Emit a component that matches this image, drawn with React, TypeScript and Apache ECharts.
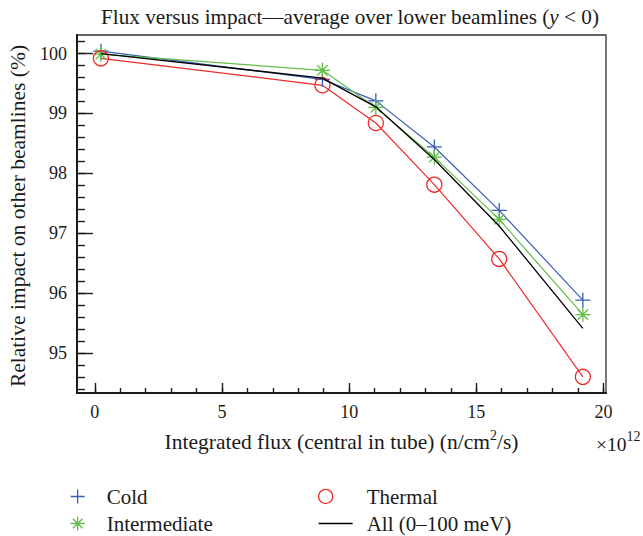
import React, { useEffect, useRef } from "react";
import * as echarts from "echarts";

// ---- data ----
const fluxX = [0.24, 8.95, 11.05, 13.35, 15.9, 19.19];
const coldValues = [100.04, 99.57, 99.21, 98.44, 97.38, 95.88];
const intermediateValues = [99.99, 99.72, 99.1, 98.27, 97.23, 95.64];
const thermalValues = [99.92, 99.47, 98.84, 97.81, 96.57, 94.6];
const allValues = [100.0, 99.59, 99.11, 98.23, 97.12, 95.41];
const seriesNames = ["Cold", "Intermediate", "Thermal", "All (0–100 meV)"];

const X_RANGE = [-0.7, 20.1];
const Y_RANGE = [94.33, 100.31];
const X_MAJOR = { min: 0, max: 20, interval: 5 };
const X_MINOR = { min: 0, max: 20, interval: 1 };
const Y_MAJOR = { min: 95, max: 100, interval: 1 };
const Y_MINOR = { min: 94.4, max: 100.2, interval: 0.2 };

const TITLE = "Flux versus impact—average over lower beamlines ({i|y} < 0)";
const X_NAME = "Integrated flux (central in tube) (n/cm{sup|2}/s)";
const Y_NAME = "Relative impact on other beamlines (%)";

// ---- style ----
const FONT = "Liberation Serif";
const INK = "#1a1a1a";
const BLUE = "#3a5bb8";
const GREEN = "#62be48";
const RED = "#ee2b2b";
const BLACK = "#000000";
const CLEAR = "rgba(0,0,0,0)";

const PLUS = "path://M7,0 L7,14 M0,7 L14,7";
const ASTERISK = "path://M7,0 L7,14 M0,7 L14,7 M2.2,2.2 L11.8,11.8 M11.8,2.2 L2.2,11.8";

const P = { left: 77, top: 35, width: 529, height: 358 };
const px = (v: number) => P.left + ((v - X_RANGE[0]) / (X_RANGE[1] - X_RANGE[0])) * P.width;
const py = (v: number) => P.top + ((Y_RANGE[1] - v) / (Y_RANGE[1] - Y_RANGE[0])) * P.height;

function buildOption(): any {
  const pairs = (ys: number[]) => fluxX.map((x, i) => [x, ys[i]]);
  const hidden = (gridIndex: number) => ({ type: "value", gridIndex, show: false });
  const tickStyle = { color: INK, width: 1.4 };
  const labelStyle = { fontFamily: FONT, fontSize: 18, color: INK };

  const markerSeries = (name: string, ys: number[], color: string, symbol: string, size: number) => ({
    type: "line",
    name,
    xAxisIndex: 0,
    yAxisIndex: 0,
    data: pairs(ys),
    symbol,
    symbolSize: size,
    showSymbol: true,
    itemStyle: { color: CLEAR, borderColor: color, borderWidth: 1.3 },
    lineStyle: { color, width: 1.2 },
    emphasis: { disabled: true },
    z: 3,
  });

  const legendItem = (left: number, top: number, itemWidth: number, textPad: number, item: any) => ({
    orient: "horizontal",
    left,
    top,
    padding: 0,
    itemWidth,
    itemHeight: 14,
    selectedMode: false,
    textStyle: { fontFamily: FONT, fontSize: 21, lineHeight: 20, color: INK, padding: [0, 0, 0, textPad] },
    data: [item],
  });

  return {
    animation: false,
    backgroundColor: "#ffffff",
    grid: [
      { left: P.left, top: P.top, width: P.width, height: P.height, show: true, borderColor: "#333", borderWidth: 1.3, backgroundColor: "transparent" },
      { left: px(X_MAJOR.min), width: px(X_MAJOR.max) - px(X_MAJOR.min), top: P.top, height: P.height },
      { left: P.left, width: P.width, top: py(Y_MAJOR.max), height: py(Y_MAJOR.min) - py(Y_MAJOR.max) },
      { left: P.left, width: P.width, top: py(Y_MINOR.max), height: py(Y_MINOR.min) - py(Y_MINOR.max) },
    ],
    xAxis: [
      {
        type: "value", gridIndex: 0, min: X_RANGE[0], max: X_RANGE[1],
        axisLine: { show: true, onZero: false, lineStyle: { color: INK, width: 2 } },
        axisTick: { show: false }, axisLabel: { show: false }, splitLine: { show: false },
      },
      {
        type: "value", gridIndex: 1, position: "bottom", ...X_MAJOR,
        axisLine: { show: false },
        axisTick: { show: true, inside: true, length: 10, lineStyle: tickStyle },
        axisLabel: { show: true, margin: 10, ...labelStyle },
        splitLine: { show: false },
      },
      {
        type: "value", gridIndex: 1, position: "bottom", ...X_MINOR,
        axisLine: { show: false },
        axisTick: { show: true, inside: true, length: 5, lineStyle: tickStyle },
        axisLabel: { show: false }, splitLine: { show: false },
      },
      hidden(2),
      hidden(3),
    ],
    yAxis: [
      {
        type: "value", gridIndex: 0, min: Y_RANGE[0], max: Y_RANGE[1],
        axisLine: { show: true, onZero: false, lineStyle: { color: INK, width: 2 } },
        axisTick: { show: false }, axisLabel: { show: false }, splitLine: { show: false },
      },
      hidden(1),
      {
        type: "value", gridIndex: 2, position: "left", ...Y_MAJOR,
        axisLine: { show: false },
        axisTick: { show: true, inside: true, length: 16, lineStyle: tickStyle },
        axisLabel: { show: true, margin: 10, ...labelStyle },
        splitLine: { show: false },
      },
      {
        type: "value", gridIndex: 3, position: "left", ...Y_MINOR,
        axisLine: { show: false },
        axisTick: { show: true, inside: true, length: 8, lineStyle: tickStyle },
        axisLabel: { show: false }, splitLine: { show: false },
      },
    ],
    legend: [
      legendItem(70, 486, 30, 9, { name: seriesNames[0], icon: PLUS, itemStyle: { color: CLEAR, borderColor: BLUE, borderWidth: 1.3 } }),
      legendItem(70, 513, 30, 9, { name: seriesNames[1], icon: ASTERISK, itemStyle: { color: CLEAR, borderColor: GREEN, borderWidth: 1.3 } }),
      legendItem(318, 486, 34, 19, { name: seriesNames[2], icon: "circle", itemStyle: { color: CLEAR, borderColor: RED, borderWidth: 1.3 } }),
      legendItem(318, 513, 34, 9, { name: seriesNames[3], itemStyle: { opacity: 0 }, lineStyle: { color: BLACK, width: 1.3 } }),
    ],
    series: [
      markerSeries(seriesNames[0], coldValues, BLUE, PLUS, 15),
      markerSeries(seriesNames[1], intermediateValues, GREEN, ASTERISK, 15),
      markerSeries(seriesNames[2], thermalValues, RED, "circle", 15),
      {
        type: "line", name: seriesNames[3], xAxisIndex: 0, yAxisIndex: 0,
        data: pairs(allValues), symbol: "none",
        itemStyle: { color: BLACK },
        lineStyle: { color: BLACK, width: 1.3 },
        emphasis: { disabled: true },
        z: 4,
      },
    ],
    graphic: [
      {
        type: "text", x: 350, y: 17,
        style: {
          text: TITLE, fontFamily: FONT, fontSize: 21.2, fill: INK, align: "center", verticalAlign: "middle",
          rich: { i: { fontFamily: FONT, fontSize: 21.2, fontStyle: "italic", fill: INK } },
        },
      },
      {
        type: "text", x: 341.5, y: 442,
        style: {
          text: X_NAME, fontFamily: FONT, fontSize: 21.5, fill: INK, align: "center", verticalAlign: "middle",
          rich: { sup: { fontFamily: FONT, fontSize: 14, fill: INK, verticalAlign: "top", lineHeight: 27 } },
        },
      },
      {
        type: "text", x: 596, y: 444,
        style: {
          text: "×10{sup|12}", fontFamily: FONT, fontSize: 19.5, fill: INK, align: "left", verticalAlign: "middle",
          rich: { sup: { fontFamily: FONT, fontSize: 14, fill: INK, verticalAlign: "top", lineHeight: 30 } },
        },
      },
      {
        type: "text", x: 18, y: 216, rotation: Math.PI / 2,
        style: { text: Y_NAME, fontFamily: FONT, fontSize: 21.5, fill: INK, align: "center", verticalAlign: "middle" },
      },
    ],
  };
}

export default function App() {
  const ref = useRef<HTMLDivElement>(null);
  useEffect(() => {
    if (!ref.current) return;
    const chart = echarts.init(ref.current, null, { renderer: "svg" });
    chart.setOption(buildOption());
    return () => chart.dispose();
  }, []);
  return (
    <div
      ref={ref}
      style={{ position: "fixed", left: 0, top: 0, width: 643, height: 536, background: "#fff" }}
    />
  );
}
